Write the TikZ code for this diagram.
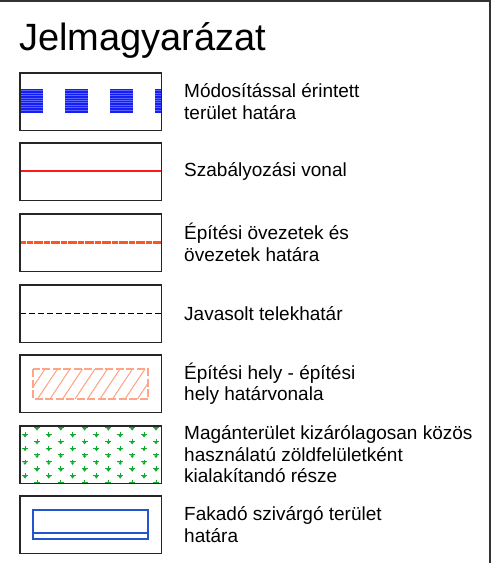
\documentclass[tikz,border=0pt]{standalone}
\usepackage{fontspec}
\setmainfont{Liberation Sans}
\definecolor{modblue}{RGB}{20,30,245}
\definecolor{modstripe}{RGB}{90,100,255}
\definecolor{szred}{RGB}{255,25,25}
\definecolor{ovred}{RGB}{255,85,30}
\definecolor{hatchc}{RGB}{255,165,135}
\definecolor{grassc}{RGB}{20,170,50}
\definecolor{fakblue}{RGB}{35,85,205}
\begin{document}
\begin{tikzpicture}[x=1pt,y=-1pt,
  legbox/.style={minimum width=141pt, minimum height=57pt, inner sep=0pt, anchor=north west},
  boxframe/.style={draw=black!85, line width=1.4pt},
  legtext/.style={anchor=west, align=left, font=\fontsize{19}{21.5}\selectfont, inner sep=0pt},
  tuft/.pic={
    \draw[grassc, line width=1pt] (-3,0) -- (3,0);
    \draw[grassc, line width=1pt] (0,-2.2) -- (0,1);
    \fill[grassc] (-2,0.5) -- (2,0.5) -- (0,3.2) -- cycle;
  }]
\useasboundingbox (0,0) rectangle (493,563);
% outer frame (top and right)
\draw[line width=2pt, black!80] (0,1) -- (490,1) -- (490,563);

% title
\node[anchor=base west, font=\fontsize{38}{40}\selectfont, inner sep=0pt] (title) at (19,50) {Jelmagyarázat};

% legend box placeholders
\node[legbox] (b1) at (20,73) {};
\node[legbox] (b2) at (20,143) {};
\node[legbox] (b3) at (20,214) {};
\node[legbox] (b4) at (20,285) {};
\node[legbox] (b5) at (20,355) {};
\node[legbox] (b6) at (20,426) {};
\node[legbox] (b7) at (20,496) {};

% box 1 pattern: striped blue squares
\begin{scope}
  \clip (b1.north west) rectangle (b1.south east);
  \foreach \sx in {20,65,110,155} {
    \fill[modblue] (\sx,89) rectangle (\sx+23,113);
    \foreach \sy in {90.5,92.9,...,112} {
      \fill[modstripe] (\sx,\sy-0.2) rectangle (\sx+23,\sy+0.2);
    }
  }
\end{scope}

% box 2: red line (as a thin filled band)
\fill[szred] (20,170) rectangle (161,172);

% box 3: dotted orange-red line
\foreach \dx in {20,23.4,...,161} {
  \fill[ovred] (\dx,241.3) rectangle ({min(\dx+2.9,161)},243.7);
}

% box 4: dashed black line
\draw[black, line width=0.9pt, dash pattern=on 6pt off 3pt] (b4.west) -- (b4.east);

% box 5: hatched building area
\begin{scope}
  \clip (33,369) rectangle (148,399);
  \foreach \hx in {0,12.5,...,160} {
    \draw[hatchc, line width=1pt] (\hx,399) -- (\hx+20,369);
  }
\end{scope}
\draw[hatchc, line width=1.2pt, dash pattern=on 8pt off 2.5pt] (33,369) rectangle (148,399);

% box 6: green tuft pattern
\begin{scope}
  \clip (b6.north west) rectangle (b6.south east);
  \foreach \i in {0,...,8} {
    \pgfmathsetmacro\yy{427.5+\i*6.85}
    \pgfmathsetmacro\xo{mod(\i,2)==0 ? 37 : 25}
    \foreach \k in {-1,...,6} {
      \pic at (\xo+\k*23.8,\yy) {tuft};
    }
  }
\end{scope}

% box 7: spring area boundary
\draw[fakblue, line width=1.3pt] (33,510) rectangle (148,539);
\coordinate (f7a) at (33,533);
\coordinate (f7b) at (148,533);
\draw[fakblue, line width=1.3pt] (f7a) -- (f7b);

% box frames on top
\foreach \b in {b1,b2,b3,b4,b5,b6,b7} {
  \draw[boxframe] (\b.north west) rectangle (\b.south east);
}

% texts
\node[legtext] (t1) at (184,101.5) {Módosítással érintett\\terület határa};
\node[legtext] (t2) at (184,171.5) {Szabályozási vonal};
\node[legtext] (t3) at (184,242.5) {Építési övezetek és\\övezetek határa};
\node[legtext] (t4) at (184,313.5) {Javasolt telekhatár};
\node[legtext] (t5) at (184,383.5) {Építési hely - építési\\hely határvonala};
\node[legtext] (t6) at (184,454.5) {Magánterület kizárólagosan közös\\használatú zöldfelületként\\kialakítandó része};
\node[legtext] (t7) at (184,524.5) {Fakadó szivárgó terület\\határa};
\end{tikzpicture}
\end{document}
